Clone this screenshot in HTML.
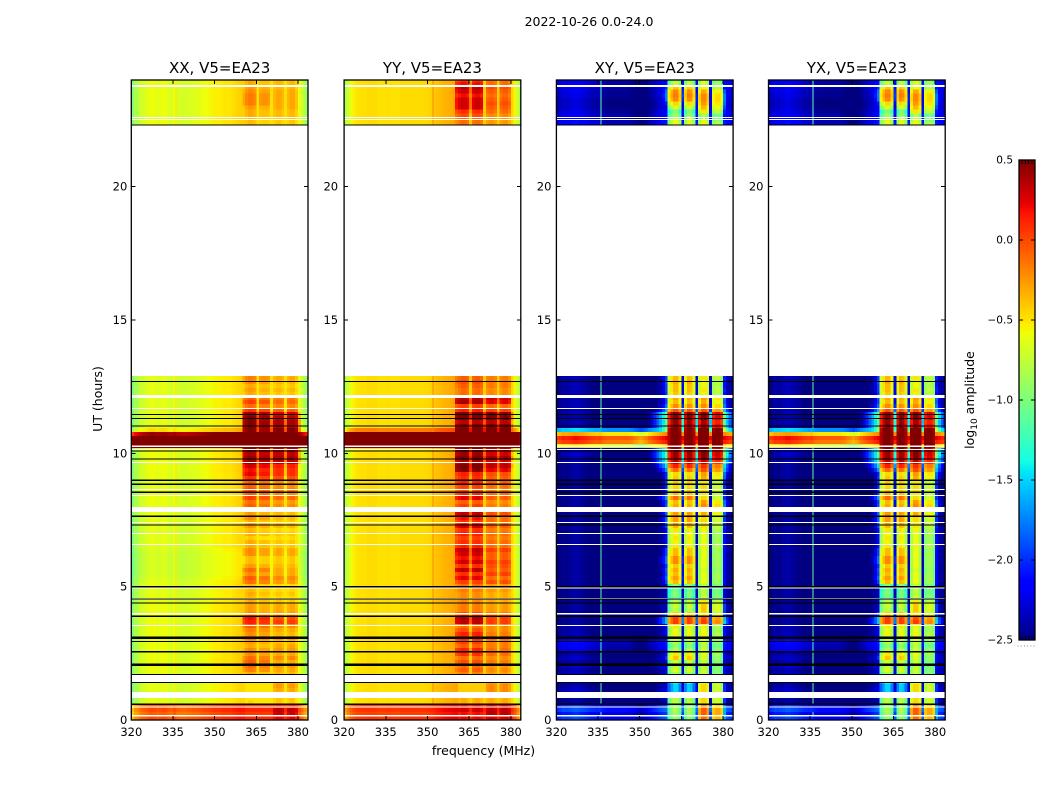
<!DOCTYPE html>
<html lang="en">
<head>
<meta charset="utf-8">
<title>2022-10-26 0.0-24.0</title>
<style>
html,body{margin:0;padding:0;background:#fff;}
svg{display:block;}
text{font-family:"DejaVu Sans","Liberation Sans",sans-serif;fill:#000;}
</style>
</head>
<body>
<svg id="figure" xmlns="http://www.w3.org/2000/svg" width="1050" height="800" viewBox="0 0 1050 800">
<text x="589" y="26" font-size="12.5" text-anchor="middle">2022-10-26 0.0-24.0</text>
<text x="483.5" y="755" font-size="12.5" text-anchor="middle">frequency (MHz)</text>
<text transform="translate(102 399) rotate(-90)" font-size="12.5" text-anchor="middle">UT (hours)</text>
<text transform="translate(974 400) rotate(-90)" font-size="12.5" text-anchor="middle">log<tspan font-size="9" dy="3">10</tspan><tspan dy="-3"> amplitude</tspan></text>
</svg>
<script>
/* ---------- chart data ---------- */
const panelTitles = ['XX, V5=EA23', 'YY, V5=EA23', 'XY, V5=EA23', 'YX, V5=EA23'];
const freqTicks = [320, 335, 350, 365, 380];
const hourTicks = [0, 5, 10, 15, 20];
const colorTicks = [0.5, 0.0, -0.5, -1.0, -1.5, -2.0, -2.5];

/* spectrum of each polarisation: log10 amplitude per 1 MHz channel */
const xxBase = [
-1.0,-.85,-.8,-.72,-.68,-.66,-.62,-.6,-.62,-.65,
-.62,-.6,-.62,-.66,-.68,-.62,-.68,-.7,-.7,-.7,
-.68,-.68,-.66,-.66,-.64,-.62,-.6,-.6,-.58,-.56,
-.55,-.55,-.54,-.52,-.52,-.52,-.5,-.48,-.46,-.45,
-.45,-.5,-.5,-.5,-.5,-.5,-.5,-.5,-.5,-.5,
-.5,-.5,-.5,-.5,-.5,-.5,-.5,-.5,-.5,-.5,
-.62,-.72,-.85,-.98];
const yyBase = [
-.8,-.7,-.6,-.54,-.5,-.49,-.48,-.48,-.47,-.47,
-.47,-.47,-.49,-.49,-.49,-.48,-.48,-.49,-.49,-.49,
-.47,-.47,-.47,-.47,-.47,-.47,-.47,-.47,-.47,-.46,
-.45,-.44,-.41,-.38,-.37,-.35,-.34,-.33,-.32,-.3,
-.3,-.42,-.42,-.42,-.42,-.42,-.42,-.42,-.42,-.42,
-.42,-.42,-.42,-.42,-.42,-.42,-.42,-.42,-.42,-.42,
-.45,-.56,-.72,-.85];
const crossBase = [
-2.6,-2.55,-2.5,-2.52,-2.5,-2.48,-2.45,-2.45,-2.48,-2.5,
-2.52,-2.55,-2.58,-2.6,-2.62,-2.6,-2.65,-2.68,-2.7,-2.7,
-2.7,-2.7,-2.7,-2.7,-2.7,-2.7,-2.72,-2.75,-2.8,-2.85,
-2.9,-2.85,-2.78,-2.7,-2.65,-2.6,-2.55,-2.5,-2.45,-2.4,
-2.4,-2.4,-2.4,-2.4,-2.4,-2.4,-2.4,-2.4,-2.4,-2.4,
-2.4,-2.4,-2.4,-2.4,-2.4,-2.4,-2.4,-2.4,-2.4,-2.4,
-2.4,-2.45,-2.5,-2.55];

/* how far each channel sits below the receiver band level */
const xxBandDrop = [
3,3,3,3,3,3,3,3,3,3,
3,3,3,3,3,3,3,3,3,3,
3,3,3,3,3,3,3,3,3,3,
3,3,3,3,3,3,3,3,3,1,
.15,.05,0,0,.05,.5,.1,.08,.08,.1,
.5,.05,0,0,.05,.5,.05,0,0,.1,
.7,3,3,3];
const yyBandDrop = [
3,3,3,3,3,3,3,3,3,3,
3,3,3,3,3,3,3,3,3,3,
3,3,3,3,3,3,3,3,3,3,
3,3,3,3,3,3,3,3,3,1,
.12,.05,0,0,.05,.4,.05,0,0,.05,
.4,.05,0,0,.05,.4,.05,0,0,.08,
.7,3,3,3];
const crossBandDrop = [
4,4,4,4,4,4,4,4,4,4,
4,4,4,4,4,4,4,4,4,4,
4,4,4,4,4,4,4,4,4,4,
4,4,3,2.8,2.6,2.4,2.2,2,1.8,1.5,
.25,.05,-.1,-.1,.15,1.7,.15,-.1,-.05,.2,
1.6,0,-.25,-.25,-.05,1.7,.1,0,0,.15,
1.3,1.7,2,2.3];

/* 0.15 h rows, 0.0 to 12.9 h: broadband offset and band levels */
const xxBg = [
.62,.55,.62,.55,0,0,0,0,0,0,
.03,.03,.03,.03,.03,.03,.03,.03,.03,.03,
.03,.03,.03,.03,.03,.03,.03,.03,.03,0,
0,0,0,0,0,-.03,-.05,-.05,-.05,-.05,
-.05,-.05,-.03,0,0,0,0,0,0,0,
0,.02,.02,.02,.02,.02,.02,.02,.02,.02,
.02,.02,.03,.03,.03,.03,.03,.03,1.4,1.5,
1.5,1.05,.15,0,0,0,0,0,0,0,
0,0,0,0,0,0];
const xxBandLow = [
-.1,-.1,-.05,-.15,-.45,-.5,-.6,-.65,-.6,-.55,
-.5,-.3,-.15,-.1,-.05,-.1,-.2,-.2,-.3,-.25,
-.15,-.2,-.15,-.05,.15,.2,-.2,-.25,-.25,-.3,
-.35,-.3,-.35,-.35,-.1,-.05,-.2,-.1,-.25,-.35,
-.35,-.2,-.2,-.3,-.3,-.4,-.3,-.35,-.25,-.3,
-.2,-.25,-.1,-.05,-.1,.05,-.05,0,-.05,-.05,
.1,.25,.2,.3,.45,.45,.4,.5,.6,.6,
.6,.6,.5,.5,.5,.5,.45,.1,-.1,.05,
-.05,-.3,-.25,-.3,-.2,-.15];
const xxBandHigh = [
.25,.3,.35,.1,-.4,-.4,-.3,-.3,-.25,-.3,
-.4,-.35,-.3,-.25,-.3,-.2,-.3,-.25,-.3,-.35,
-.25,-.35,-.3,-.2,.05,0,-.25,-.3,-.3,-.4,
-.45,-.4,-.45,-.45,-.25,-.2,-.3,-.3,-.35,-.4,
-.4,-.3,-.3,-.4,-.4,-.45,-.4,-.45,-.35,-.4,
-.35,-.35,-.25,-.2,-.25,-.1,-.2,-.15,-.2,-.2,
0,.1,.1,.15,.35,.4,.35,.4,.6,.6,
.6,.6,.5,.4,.4,.35,.3,-.05,-.2,-.1,
-.15,-.4,-.35,-.4,-.35,-.3];

const yyBg = [
.55,.5,.55,.5,0,0,0,0,0,0,
0,0,0,0,0,0,0,0,0,0,
0,0,0,0,0,0,0,0,0,0,
0,0,0,0,0,0,0,0,0,0,
0,0,0,0,0,0,0,0,0,0,
0,0,0,0,0,0,0,0,0,0,
0,0,0,0,0,0,0,0,1.25,1.3,
1.3,1.3,.3,0,0,0,0,0,0,0,
0,0,0,0,0,0];
const yyBandLow = [
.25,.2,.3,.2,-.3,-.3,-.45,-.45,-.45,-.4,
-.4,-.15,-.05,-.1,0,-.1,.1,.15,-.05,.05,
.1,.15,0,-.1,.35,.4,0,-.15,-.15,-.2,
-.2,-.2,-.15,-.1,.05,.25,.1,.35,.1,.3,
.2,.3,.35,.15,.1,.05,.15,.1,.3,.1,
.2,.35,-.1,.05,-.05,.25,.1,0,.05,.15,
.1,.15,.5,.55,.4,.55,.45,.5,.6,.6,
.6,.6,.6,.5,.35,.55,.55,.15,.05,.4,
.35,-.1,-.1,-.05,0,-.05];
const yyBandHigh = [
.3,.35,.35,.25,-.3,-.3,-.2,-.2,-.2,-.25,
-.3,-.25,-.2,-.25,-.15,-.2,-.1,-.1,-.15,-.15,
-.1,-.15,-.2,-.2,.05,.05,-.15,-.25,-.25,-.3,
-.3,-.3,-.25,-.25,0,-.1,.05,-.05,0,.05,
-.05,-.05,.05,-.1,-.1,-.15,-.1,-.15,-.05,-.1,
-.1,0,-.2,-.15,-.2,-.05,-.1,-.15,-.1,-.05,
-.05,0,.25,.35,.3,.45,.3,.35,.6,.6,
.6,.6,.6,.5,.35,.5,.5,.05,-.1,.25,
.3,-.2,-.2,-.15,-.15,-.15];

const crossBg = [
.55,.45,.6,.5,.05,.05,.1,.15,.1,.1,
.1,.15,.1,.2,.1,.15,.1,.3,.3,.35,
.25,.1,.1,.1,.05,.05,.05,.05,.05,.05,
.05,.05,.05,.05,.05,.05,.05,.05,.05,.05,
.05,.05,.05,.05,.05,.05,.05,.05,.05,.05,
.05,.05,.05,.05,.05,.05,.05,.05,.05,.05,
.05,.05,.05,.05,.1,.1,.15,.2,2,2.55,
2.65,2.2,1,.1,.1,.1,.1,.1,.1,.1,
.1,.1,.1,.1,.1,.1];
const crossBandLow = [
-1,-.95,-.9,-1,-.85,-.85,-1.5,-1.6,-1.6,-1.5,
-1.2,-.9,-.75,-.85,-.8,-.5,-.6,-.9,-1,-.9,
-.75,-.65,-.7,-.6,-.05,-.05,-.5,-.85,-.8,-.85,
-1.1,-1.05,-1.1,-1.05,-.45,-.35,-.45,-.4,-.5,-.3,
-.3,-.45,-.45,-.6,-.65,-.6,-.65,-.6,-.45,-.35,
-.35,-.35,-.5,-.4,-.45,-.2,-.45,-.5,-.55,-.5,
-.5,-.55,-.2,.05,.25,.35,.35,.4,.6,.6,
.6,.6,.55,.4,.35,.4,.4,-.1,-.3,-.45,
-.4,-.5,-.45,-.45,-.4,-.45];
const crossBandHigh = [
-.35,-.3,-.3,-.45,-.7,-.7,-.75,-.7,-.7,-.8,
-.9,-.95,-.95,-1,-.95,-.9,-.85,-.95,-1,-.95,
-.85,-.8,-.85,-.8,-.2,-.25,-.7,-.65,-.65,-.75,
-.95,-1,-1,-1,-.85,-.85,-.85,-.9,-.85,-.85,
-.85,-.85,-.85,-.8,-.85,-.85,-.85,-.8,-.75,-.7,
-.7,-.55,-.45,-.45,-.5,-.7,-.75,-.7,-.7,-.75,
-.55,-.5,-.25,-.15,.1,.25,.3,.3,.6,.6,
.6,.6,.55,.2,.15,.25,.25,-.25,-.45,-.55,
-.5,-.8,-.75,-.8,-.8,-.75];

/* 0.15 h rows, 22.3 to 24.0 h */
const xxBgTop = [.02,.02,.02,.02,.02,.02,.02,.02,.02,.02,.02,.02];
const xxBandLowTop = [-.35,-.35,-.3,-.3,-.25,-.15,-.15,-.15,-.2,-.25,-.3,-.3];
const xxBandHighTop = [-.4,-.4,-.35,-.35,-.3,-.3,-.3,-.3,-.3,-.35,-.35,-.35];
const yyBgTop = [0,0,0,0,0,0,0,0,0,0,0,0];
const yyBandLowTop = [-.1,-.1,0,.1,.3,.3,.3,.2,.3,.35,.2,0];
const yyBandHighTop = [-.25,-.25,-.2,-.1,-.05,0,-.05,-.1,-.05,0,-.1,-.15];
const crossBgTop = [.35,.3,.3,.25,.2,.2,.2,.25,.25,.3,.3,.3];
const crossBandLowTop = [-.7,-.75,-.95,-1.1,-.75,-.55,-.3,-.25,-.3,-.5,-.85,-.9];
const crossBandHighTop = [-.8,-.95,-1.05,-.75,-.6,-.5,-.45,-.45,-.55,-.8,-.9,-.9];

/* narrow RFI spike per panel: frequency in MHz and amplitude */
const spikeFreqs = [335.9, 351.8, 335.9, 335.9];
const spikeLevels = [-.5, -.2, -1.1, -1.1];

/* flagged-out time ranges in hours, [start, end] */
const blankRanges = [
[.14,.19],[.47,.51],[.83,1.05],[1.43,1.69],[3.53,3.56],[3.96,4.01],[4.53,4.57],[4.94,4.99],
[6.56,6.6],[6.98,7.02],[7.39,7.43],[7.8,7.99],[8.4,8.44],[8.64,8.67],[9.64,9.68],[10.13,10.16],
[10.24,10.29],[11.66,11.7],[12.08,12.19],[22.5,22.54],[22.57,22.61],[23.73,23.77],[23.79,23.82]];
const darkRanges = [
[.57,.61],[1.38,1.42],[1.69,1.73],[2.03,2.11],[2.53,2.59],[2.92,2.96],[3.04,3.13],[3.87,3.91],
[4.36,4.4],[4.51,4.55],[4.97,5.03],[7.29,7.33],[7.62,7.66],[8.52,8.56],[8.82,8.86],[8.97,9.01],
[9.76,9.8],[10.07,10.11],[11.01,11.05],[11.29,11.33],[11.44,11.48],[12.68,12.72],[22.29,22.33]];

/* ---------- layout and scales ---------- */
const NS = 'http://www.w3.org/2000/svg';
const svg = document.getElementById('figure');
const panelLeft = [131.3, 344.1, 556.4, 768.5];
const panelLabelGap = [4, 6, 5, 5];
const panelWidth = 176.7;
const plotTop = 80, plotBottom = 720;
const freqMin = 320, freqMax = 383.6, rowHours = 0.15, topStart = 22.3, hourMax = 24;
const cbarX = 1019, cbarW = 16, cbarTop = 160, cbarBottom = 640, vMin = -2.5, vMax = 0.5;

function xScale(p, mhz) { return panelLeft[p] + (mhz - freqMin) * panelWidth / (freqMax - freqMin); }
function yScale(h) { return plotBottom - h * (plotBottom - plotTop) / hourMax; }
function cbarY(v) { return cbarBottom - (v - vMin) * (cbarBottom - cbarTop) / (vMax - vMin); }

function ramp(t, pts) {
  for (let i = 1; i < pts.length; i++) {
    if (t <= pts[i][0]) {
      const a = pts[i - 1], b = pts[i];
      return a[1] + (b[1] - a[1]) * (t - a[0]) / (b[0] - a[0]);
    }
  }
  return pts[pts.length - 1][1];
}
function jet(v) {
  const t = Math.max(0, Math.min(1, (v - vMin) / (vMax - vMin)));
  const r = ramp(t, [[0, 0], [.35, 0], [.66, 1], [.89, 1], [1, .5]]);
  const g = ramp(t, [[0, 0], [.125, 0], [.375, 1], [.64, 1], [.91, 0], [1, 0]]);
  const b = ramp(t, [[0, .5], [.11, 1], [.34, 1], [.65, 0], [1, 0]]);
  return 'rgb(' + Math.round(r * 255) + ',' + Math.round(g * 255) + ',' + Math.round(b * 255) + ')';
}
function make(tag, parent, attrs) {
  const el = document.createElementNS(NS, tag);
  for (const k in attrs) el.setAttribute(k, attrs[k]);
  parent.appendChild(el);
  return el;
}

const panels = [
  { key: 'xx', base: xxBase, drop: xxBandDrop, bg: xxBg, low: xxBandLow, high: xxBandHigh, bgTop: xxBgTop, lowTop: xxBandLowTop, highTop: xxBandHighTop },
  { key: 'yy', base: yyBase, drop: yyBandDrop, bg: yyBg, low: yyBandLow, high: yyBandHigh, bgTop: yyBgTop, lowTop: yyBandLowTop, highTop: yyBandHighTop },
  { key: 'xy', base: crossBase, drop: crossBandDrop, bg: crossBg, low: crossBandLow, high: crossBandHigh, bgTop: crossBgTop, lowTop: crossBandLowTop, highTop: crossBandHighTop },
  { key: 'yx', base: crossBase, drop: crossBandDrop, bg: crossBg, low: crossBandLow, high: crossBandHigh, bgTop: crossBgTop, lowTop: crossBandLowTop, highTop: crossBandHighTop }
];

function cellValue(panel, bg, low, high, row, ch) {
  const band = (ch < 50 ? low[row] : high[row]) - panel.drop[ch];
  return Math.max(panel.base[ch] + bg[row], band);
}

function drawBlock(p, group, startHour, bg, low, high) {
  const panel = panels[p];
  const chanCount = panel.base.length;
  for (let r = 0; r < bg.length; r++) {
    const h0 = startHour + r * rowHours;
    const h1 = Math.min(h0 + rowHours, hourMax);
    for (let ch = 0; ch < chanCount; ch++) {
      const x0 = xScale(p, freqMin + ch), x1 = xScale(p, freqMin + ch + 1);
      const cell = make('rect', group, { x: x0, y: yScale(h1), width: x1 - x0, height: yScale(h0) - yScale(h1), fill: jet(cellValue(panel, bg, low, high, r, ch)) });
      
      
    }
    if (bg[r] < 0.5) {
      const sx = xScale(p, spikeFreqs[p]);
      const spike = make('rect', group, { x: sx, y: yScale(h1), width: 1, height: yScale(h0) - yScale(h1), fill: jet(spikeLevels[p]) });
      
      
    }
  }
}

function drawRanges(p, group, ranges, color, name) {
  ranges.forEach(function (rg) {
    const bar = make('rect', group, { x: panelLeft[p], y: yScale(rg[1]), width: panelWidth, height: Math.max(1, yScale(rg[0]) - yScale(rg[1])), fill: color });
    
    
  });
}

panels.forEach(function (panel, p) {
  const left = panelLeft[p], right = left + panelWidth;
  const g = make('g', svg, {});
  
  

  const clip = make('clipPath', g, { id: 'clip-' + panel.key });
  make('rect', clip, { x: left, y: plotTop, width: panelWidth, height: plotBottom - plotTop });

  const heat = make('g', g, { 'clip-path': 'url(#clip-' + panel.key + ')', 'shape-rendering': 'crispEdges' });
  
  
  drawBlock(p, heat, 0, panel.bg, panel.low, panel.high);
  drawBlock(p, heat, topStart, panel.bgTop, panel.lowTop, panel.highTop);
  drawRanges(p, heat, blankRanges, '#fff', 'flagged-gap');
  drawRanges(p, heat, darkRanges, '#000', 'flagged-line');

  const ticks = make('g', g, { stroke: '#000', 'stroke-width': 1, 'shape-rendering': 'crispEdges' });
  
  
  freqTicks.forEach(function (f) {
    const x = xScale(p, f);
    const bottomTick = make('line', ticks, { x1: x, x2: x, y1: plotBottom, y2: plotBottom - 4 });
    
    
    const topTick = make('line', ticks, { x1: x, x2: x, y1: plotTop, y2: plotTop + 4 });
    
    
    const label = make('text', g, { x: x, y: 736, 'font-size': 11.5, 'text-anchor': 'middle' });
    
    
    label.textContent = String(f);
  });
  hourTicks.forEach(function (h) {
    const y = yScale(h);
    const leftTick = make('line', ticks, { x1: left, x2: left + 4, y1: y, y2: y });
    
    
    const rightTick = make('line', ticks, { x1: right, x2: right - 4, y1: y, y2: y });
    
    
    const label = make('text', g, { x: left - panelLabelGap[p], y: y + 4, 'font-size': 11.5, 'text-anchor': 'end' });
    
    
    label.textContent = String(h);
  });

  const frame = make('rect', g, { x: left, y: plotTop, width: panelWidth, height: plotBottom - plotTop, fill: 'none', stroke: '#000', 'stroke-width': 1.3 });
  
  

  const title = make('text', g, { x: left + panelWidth / 2, y: 73, 'font-size': 15, 'text-anchor': 'middle' });
  
  
  title.textContent = panelTitles[p];
});

/* ---------- colorbar ---------- */
const cbar = make('g', svg, {});


const cbarSteps = make('g', cbar, { 'shape-rendering': 'crispEdges' });


const stepCount = 256;
for (let i = 0; i < stepCount; i++) {
  const v0 = vMin + (vMax - vMin) * i / stepCount;
  const v1 = vMin + (vMax - vMin) * (i + 1) / stepCount;
  const step = make('rect', cbarSteps, { x: cbarX, y: cbarY(v1), width: cbarW, height: cbarY(v0) - cbarY(v1) + .5, fill: jet((v0 + v1) / 2) });
  
  
}
colorTicks.forEach(function (v) {
  const y = cbarY(v);
  const tickL = make('line', cbar, { x1: cbarX, x2: cbarX + 4, y1: y, y2: y, stroke: '#000', 'shape-rendering': 'crispEdges' });
  
  
  const tickR = make('line', cbar, { x1: cbarX + cbarW - 4, x2: cbarX + cbarW, y1: y, y2: y, stroke: '#000', 'shape-rendering': 'crispEdges' });
  
  
  const label = make('text', cbar, { x: cbarX - 6, y: y + 3.5, 'font-size': 10.5, 'text-anchor': 'end' });
  
  
  label.textContent = v.toFixed(1).replace('-', '\u2212');
});
for (let k = 1; k < 5; k++) {
  const x = cbarX + k * cbarW / 5;
  const topMark = make('line', cbar, { x1: x, x2: x, y1: cbarTop, y2: cbarTop + 4, stroke: '#000', 'shape-rendering': 'crispEdges' });
  
  
  const botMark = make('line', cbar, { x1: x, x2: x, y1: cbarBottom, y2: cbarBottom - 4, stroke: '#000', 'shape-rendering': 'crispEdges' });
  
  
}
const cbarFrame = make('rect', cbar, { x: cbarX, y: cbarTop, width: cbarW, height: cbarBottom - cbarTop, fill: 'none', stroke: '#000', 'stroke-width': 1.3 });


const cbarDots = make('line', cbar, { x1: 1017.5, x2: 1035, y1: 646, y2: 646, stroke: '#888', 'stroke-dasharray': '1 2.2' });


</script>
</body>
</html>
